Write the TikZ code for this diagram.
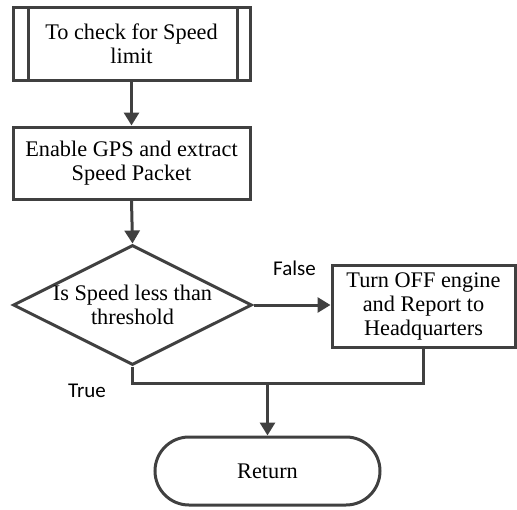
\documentclass[tikz,border=0pt]{standalone}
\usepackage{fontspec}
\setmainfont{Liberation Serif}
\newfontfamily\labelfont{Carlito}
\usetikzlibrary{shapes.geometric,arrows.meta,calc}
\definecolor{ink}{HTML}{404040}
\tikzset{
  flow/.style={draw=ink, line width=3pt},
  procbox/.style={flow, rectangle, align=center, font=\fontsize{22.3}{24}\selectfont, inner sep=0pt},
  decbox/.style={flow, diamond, align=center, font=\fontsize{22.3}{24}\selectfont, inner sep=0pt},
  termbox/.style={flow, rectangle, rounded corners=34pt, align=center, font=\fontsize{22.3}{24}\selectfont},
  link/.style={draw=ink, line width=3pt, -{Triangle[length=13pt,width=15pt]}},
  plain/.style={draw=ink, line width=3pt},
  branch/.style={font=\labelfont\fontsize{21}{23}\selectfont, text=black, inner sep=0pt}
}
\begin{document}
\begin{tikzpicture}[x=1pt,y=-1pt]
  \useasboundingbox (0,0) rectangle (517,509);

  % predefined process
  \node[procbox, minimum width=237pt, minimum height=73pt] (start) at (131.5,44) {To check for Speed\\limit};
  \draw[plain] ($(start.north west)+(17,0)$) -- ($(start.south west)+(17,0)$);
  \draw[plain] ($(start.north east)+(-14,0)$) -- ($(start.south east)+(-14,0)$);

  % process steps
  \node[procbox, minimum width=237pt, minimum height=72pt] (gps) at (131.5,163) {Enable GPS and extract\\Speed Packet};
  \node[decbox, minimum width=239pt, minimum height=120pt, aspect=2] (dec) at (132.5,305) {Is Speed less than\\threshold};
  \node[procbox, minimum width=183pt, minimum height=82pt] (off) at (423.5,306) {Turn OFF engine\\and Report to\\Headquarters};
  \node[termbox, minimum width=225pt, minimum height=68pt] (ret) at (267.5,471) {Return};

  % junction above the end node
  \coordinate (joinL) at (dec.south |- 0,383);
  \coordinate (joinR) at (off.south |- 0,383);
  \coordinate (joinM) at (ret.north |- 0,383);

  % connectors
  \draw[link] (start.south) -- (gps.north);
  \draw[link] (gps.south) -- (dec.north);
  \draw[link] (dec.east) -- (off.west |- dec.east);
  \draw[plain, line join=miter] (dec.south) -- (joinL) -- (joinR) -- (off.south);
  \draw[link] (joinM) -- (ret.north);

  % branch labels
  \node[branch] (lfalse) at (294.5,268) {False};
  \node[branch] (ltrue) at (87,391) {True};
\end{tikzpicture}
\end{document}
